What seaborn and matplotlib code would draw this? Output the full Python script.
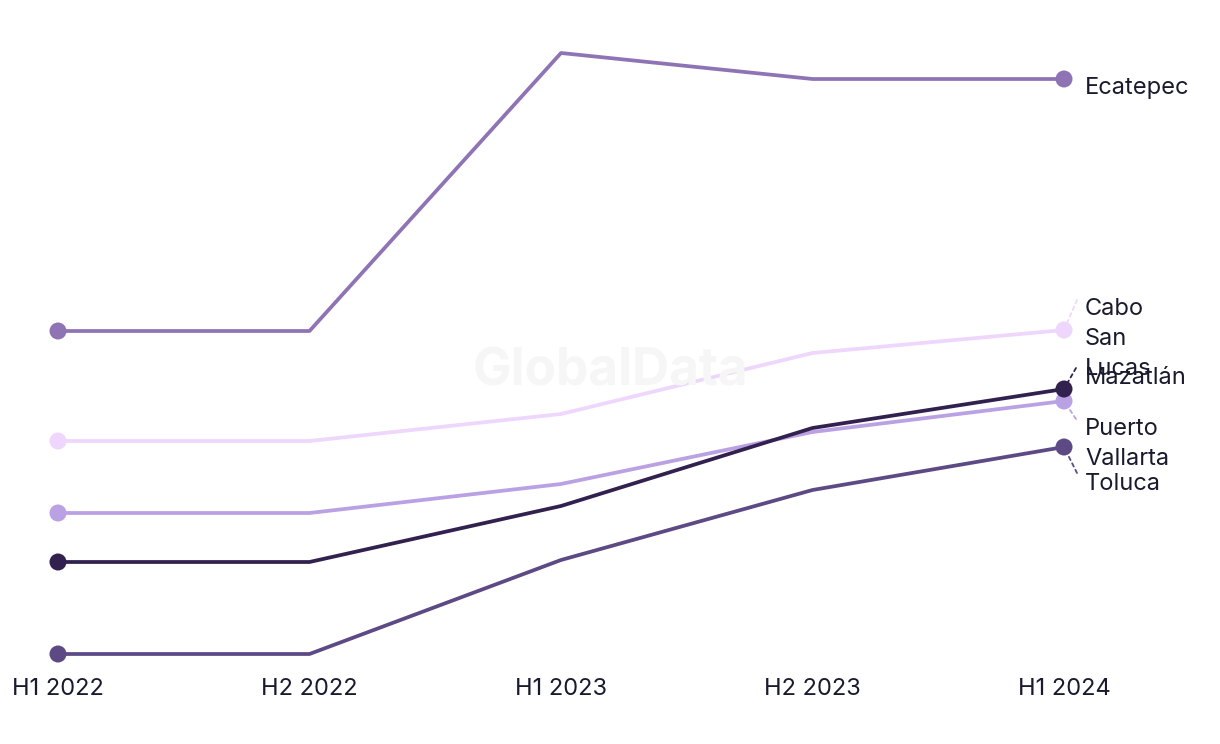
import matplotlib
matplotlib.use("Agg")
import matplotlib.pyplot as plt
import seaborn as sns
import pandas as pd

periods = ["H1 2022", "H2 2022", "H1 2023", "H2 2023", "H1 2024"]
ecatepec = [36.9, 36.9, 64.7, 62.1, 62.1]
cabo_san_lucas = [25.9, 25.9, 28.6, 34.7, 37.0]
puerto_vallarta = [18.7, 18.7, 21.6, 26.8, 29.9]
mazatlan = [13.8, 13.8, 19.4, 27.2, 31.1]
toluca = [4.6, 4.6, 14.0, 21.0, 25.3]

series_names = ["Ecatepec", "Cabo San Lucas", "Puerto Vallarta", "Mazatlán", "Toluca"]
series_values = [ecatepec, cabo_san_lucas, puerto_vallarta, mazatlan, toluca]
colors = ["#8f74b5", "#efd6fc", "#b9a1e4", "#32204f", "#5d4a85"]
label_texts = ["Ecatepec", "Cabo\nSan\nLucas", "Puerto\nVallarta", "Mazatlán", "Toluca"]
# label text offsets (px) from the last point
label_offsets = [(21, -9), (21, -9), (21, -43), (21, 11), (21, -37)]
# leader line far-end offsets (px); None = no leader
leader_ends = [None, (13, 30), (12, -18), (12, 21), (13, -26)]

rows = []
for name, vals in zip(series_names, series_values):
    for i, (p, v) in enumerate(zip(periods, vals)):
        rows.append({"period": p, "idx": i, "value": v, "series": name})
df = pd.DataFrame(rows)

sns.set_theme(style="white")
plt.rcParams["font.family"] = ["Inter", "DejaVu Sans"]

fig = plt.figure(figsize=(12.2, 7.44), dpi=100)
ax = fig.add_axes([58 / 1220, (744 - 654) / 744, (1064 - 58) / 1220, (654 - 53) / 744])

palette = dict(zip(series_names, colors))
sns.lineplot(data=df, x="idx", y="value", hue="series", palette=palette,
             linewidth=2.7, ax=ax, legend=False, sort=False)
ends = df[df["idx"].isin([0, len(periods) - 1])]
sns.scatterplot(data=ends, x="idx", y="value", hue="series", palette=palette,
                s=150, edgecolor="none", ax=ax, legend=False, zorder=5)
for coll in ax.collections:
    coll.set_clip_on(False)
for line in ax.lines:
    line.set_clip_on(False)

ax.set_xlim(0, len(periods) - 1)
ax.set_ylim(min(toluca), max(ecatepec))
ax.set_xticks(range(len(periods)))
ax.set_xticklabels(periods, fontsize=17, color="#1a1a2e")
ax.tick_params(axis="x", length=0, pad=17)
ax.set_yticks([])
ax.set_xlabel("")
ax.set_ylabel("")
for s in ax.spines.values():
    s.set_visible(False)

last = len(periods) - 1
for vals, col, txt, (dx, dy), lend in zip(series_values, colors, label_texts, label_offsets, leader_ends):
    ax.annotate(txt, xy=(last, vals[-1]), xytext=(dx, dy), textcoords="offset pixels",
                ha="left", va="center", fontsize=17, color="#1a1a2e", linespacing=1.45,
                annotation_clip=False, zorder=6)
    if lend is not None:
        ax.annotate("", xy=(last, vals[-1]), xytext=lend, textcoords="offset pixels",
                    arrowprops=dict(arrowstyle="-", color=col, linestyle=(0, (2, 2)), lw=1.3,
                                    shrinkA=0, shrinkB=5),
                    annotation_clip=False)

fig.text(610 / 1220, (744 - 372) / 744, "GlobalData", ha="center", va="center",
         fontsize=37, fontweight="bold", color="#f6f6f6", zorder=0)

fig.savefig("out.png", dpi=100, facecolor="white")
